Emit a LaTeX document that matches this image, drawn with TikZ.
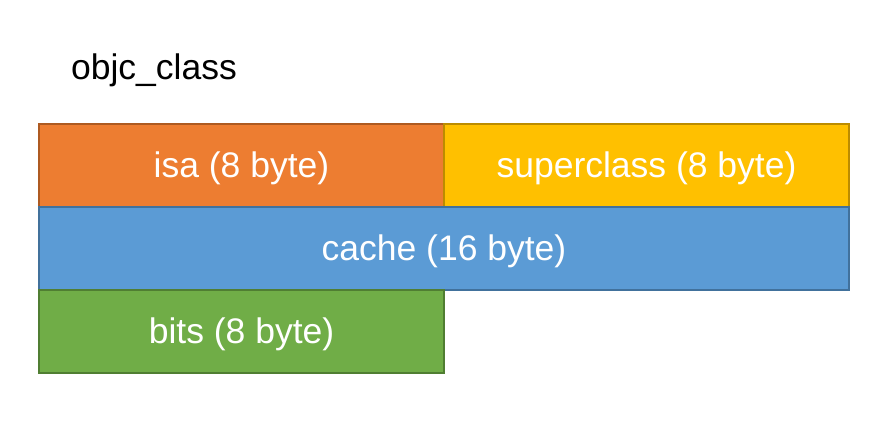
\documentclass[tikz,border=0pt]{standalone}
\usepackage{fontspec}
\setmainfont{Liberation Sans}
\usetikzlibrary{positioning}
\definecolor{isafill}{HTML}{ED7D31}
\definecolor{isaline}{HTML}{AE5A21}
\definecolor{superfill}{HTML}{FFC000}
\definecolor{superline}{HTML}{BC8C00}
\definecolor{cachefill}{HTML}{5B9BD5}
\definecolor{cacheline}{HTML}{41719C}
\definecolor{bitsfill}{HTML}{70AD47}
\definecolor{bitsline}{HTML}{507E32}
\tikzset{
	field/.style={line width=2pt, minimum height=83pt, inner sep=0pt, outer sep=0pt,
		text depth=1pt, text=white, font=\fontsize{35.5}{40}\selectfont, anchor=north west},
	halffield/.style={field, minimum width=405pt},
	fullfield/.style={field, minimum width=810pt}
}
\begin{document}
\begin{tikzpicture}[x=1pt, y=-1pt, node distance=0pt]

	\useasboundingbox (0,0) rectangle (886,438);
	\node[font=\fontsize{35.5}{40}\selectfont] (title) at (154,70){objc\_class};

	\node[halffield, fill=isafill, draw=isaline] (isa) at (39,124){isa (8 byte)};
	\node[halffield, fill=superfill, draw=superline, right=of isa] (super){superclass (8 byte)};
	\node[fullfield, fill=cachefill, draw=cacheline, below=of isa.south west, anchor=north west] (cache){cache (16 byte)};
	\node[halffield, fill=bitsfill, draw=bitsline, below=of cache.south west, anchor=north west] (bits){bits (8 byte)};

\end{tikzpicture}
\end{document}
